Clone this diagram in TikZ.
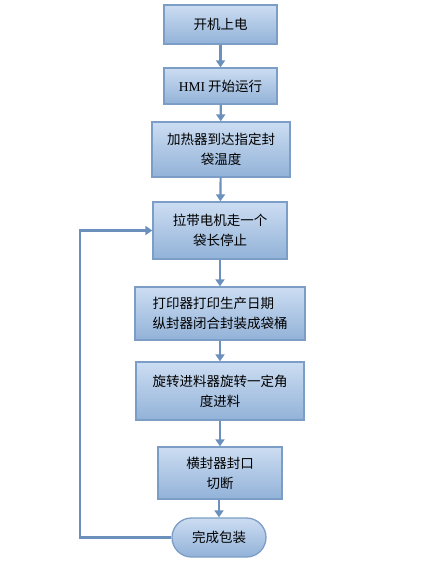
\documentclass[tikz,border=0pt]{standalone}
\usepackage{fontspec}
\newfontfamily\cjk{Noto Sans CJK SC}
\newfontfamily\lat{Liberation Serif}
\usetikzlibrary{arrows.meta,shapes.misc}
\definecolor{boxtop}{HTML}{CCDDF2}
\definecolor{boxbot}{HTML}{92B2D8}
\definecolor{boxline}{HTML}{7C9DC5}
\definecolor{flowline}{HTML}{6C90BC}
\tikzset{
  stepbox/.style={draw=boxline, line width=1.3pt, top color=boxtop, bottom color=boxbot,
    font=\cjk\fontsize{13.5}{20}\selectfont, align=center, inner sep=0pt},
  endbox/.style={stepbox, rounded rectangle},
  flow/.style={draw=flowline, line width=2.2pt, -{Triangle[width=9pt,length=7pt]}}
}
\begin{document}
\begin{tikzpicture}[x=1pt,y=-1pt]
    \useasboundingbox (0,0) rectangle (429,564);
    % steps
    \node[stepbox, minimum width=113, minimum height=39] (power) at (220.5,24.5) {开机上电};
    \node[stepbox, minimum width=113, minimum height=36] (hmi) at (220.5,86) {{\lat HMI}\ 开始运行};
    \node[stepbox, minimum width=138, minimum height=55] (heat) at (221,149.5) {加热器到达指定封\\袋温度};
    \node[stepbox, minimum width=134, minimum height=57] (pull) at (220,230.5) {拉带电机走一个\\袋长停止};
    \node[stepbox, align=left, minimum width=170, minimum height=53] (print) at (220,313.5) {打印器打印生产日期\\纵封器闭合封装成袋桶};
    \node[stepbox, minimum width=168, minimum height=58] (feed) at (220,391) {旋转进料器旋转一定角\\度进料};
    \node[stepbox, minimum width=124, minimum height=52] (seal) at (220,473) {横封器封口\\切断};
    \node[endbox, minimum width=94, minimum height=39] (done) at (219,537.5) {完成包装};
    % arrows
    \draw[flow] (power) -- (hmi);
    \draw[flow] (hmi) -- (heat);
    \draw[flow] (heat) -- (pull);
    \draw[flow] (pull) -- (print);
    \draw[flow] (print) -- (feed);
    \draw[flow] (feed) -- (seal);
    \draw[flow] (seal.south -| done.north) -- (done.north);
    \draw[flow] (done.west) -- ++(-91,0) |- (pull.west);
\end{tikzpicture}
\end{document}
